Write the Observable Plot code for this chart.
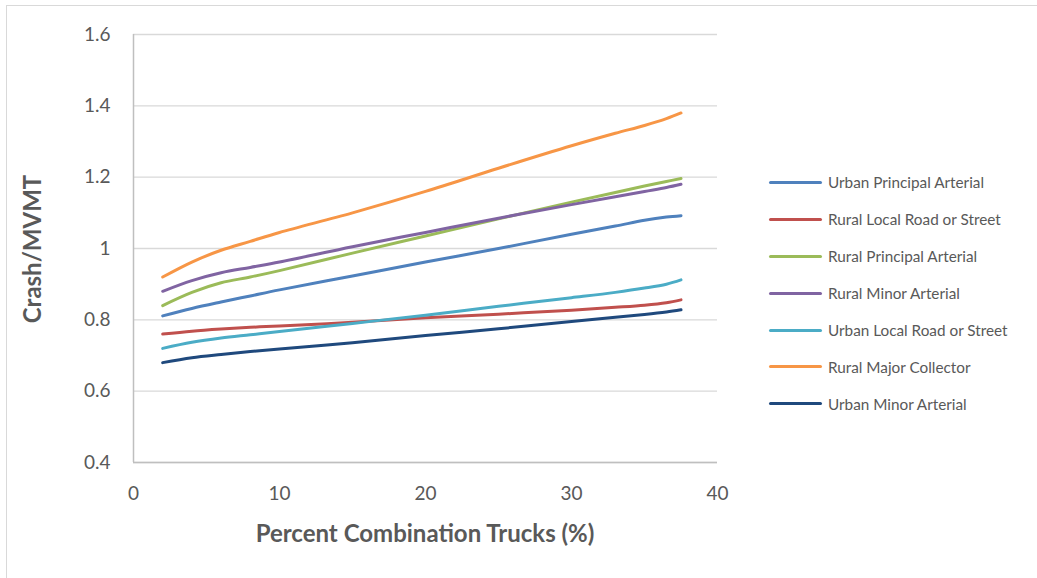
<!DOCTYPE html>
<html>
<head>
<meta charset="utf-8">
<script src="https://cdn.jsdelivr.net/npm/d3@7"></script>
<script src="https://cdn.jsdelivr.net/npm/@observablehq/plot@0.6"></script>
<style>
  html, body { margin: 0; padding: 0; background: #fff; }
  #wrap { position: relative; width: 1037px; height: 578px; overflow: hidden; font-family: Lato, "Open Sans", sans-serif; color: #595959; }
  #frame { position: absolute; left: 6px; top: 5px; right: -2px; bottom: -2px; border-left: 1px solid #d9d9d9; border-top: 1px solid #d9d9d9; }
  #chart { position: absolute; left: 0; top: 0; }
  .ytitle { position: absolute; left: 31px; top: 249px; transform: translate(-50%, -50%) rotate(-90deg); font-weight: 700; font-size: 24px; white-space: nowrap; }
  .xtitle { position: absolute; left: 425px; top: 532px; transform: translate(-50%, -50%); font-weight: 700; font-size: 24px; white-space: nowrap; }
  #legend { position: absolute; left: 769px; top: 0; }
  .item { position: absolute; left: 0; display: flex; align-items: center; white-space: nowrap; transform: translateY(-50%); font-size: 15.3px; }
  .swatch { width: 53px; height: 3px; border-radius: 2px; margin-right: 6px; }
</style>
</head>
<body>
<div id="wrap">
  <div id="frame"></div>
  <div id="chart"></div>
  <div class="ytitle">Crash/MVMT</div>
  <div class="xtitle">Percent Combination Trucks (%)</div>
  <div id="legend"></div>
</div>
<script>
// Percent combination trucks (x) at which each road class is evaluated
const truckPct = [2, 4, 6, 8, 10, 15, 20, 25, 30, 33, 35, 36.5, 37.5];

// Crash rate (crashes per million vehicle-miles travelled) by functional class
const urbanPrincipalArterial = [0.811, 0.832, 0.85, 0.867, 0.884, 0.923, 0.962, 1.0, 1.04, 1.063, 1.079, 1.088, 1.092];
const ruralLocalRoad         = [0.76, 0.768, 0.774, 0.779, 0.783, 0.793, 0.806, 0.816, 0.827, 0.835, 0.841, 0.848, 0.856];
const ruralPrincipalArterial = [0.84, 0.877, 0.904, 0.92, 0.938, 0.987, 1.035, 1.083, 1.13, 1.157, 1.175, 1.188, 1.196];
const ruralMinorArterial     = [0.88, 0.91, 0.932, 0.947, 0.962, 1.005, 1.045, 1.085, 1.123, 1.145, 1.16, 1.171, 1.18];
const urbanLocalRoad         = [0.72, 0.737, 0.749, 0.758, 0.767, 0.79, 0.813, 0.838, 0.862, 0.877, 0.889, 0.9, 0.912];
const ruralMajorCollector    = [0.92, 0.962, 0.995, 1.02, 1.045, 1.10, 1.16, 1.225, 1.288, 1.323, 1.345, 1.364, 1.38];
const urbanMinorArterial     = [0.68, 0.694, 0.703, 0.711, 0.718, 0.736, 0.756, 0.775, 0.795, 0.807, 0.815, 0.822, 0.828];

const seriesNames = [
  "Urban Principal Arterial",
  "Rural Local Road or Street",
  "Rural Principal Arterial",
  "Rural Minor Arterial",
  "Urban Local Road or Street",
  "Rural Major Collector",
  "Urban Minor Arterial"
];
const seriesValues = [
  urbanPrincipalArterial, ruralLocalRoad, ruralPrincipalArterial, ruralMinorArterial,
  urbanLocalRoad, ruralMajorCollector, urbanMinorArterial
];
const seriesColors = ["#4f81bd", "#c0504d", "#9bbb59", "#8064a2", "#4bacc6", "#f79646", "#1f497d"];

const xTicks = [0, 10, 20, 30, 40];
const yTicks = [0.4, 0.6, 0.8, 1, 1.2, 1.4, 1.6];

// Long-format table for the line mark
const rows = seriesNames.flatMap((name, i) =>
  truckPct.map((x, j) => ({ series: name, pct: x, rate: seriesValues[i][j] }))
);

const chart = Plot.plot({
  width: 1037,
  height: 578,
  marginLeft: 133,
  marginRight: 320,
  marginTop: 34,
  marginBottom: 116,
  style: { fontFamily: "Lato, 'Open Sans', sans-serif", color: "#595959", background: "transparent" },
  x: { domain: [0, 40] },
  y: { domain: [0.4, 1.6] },
  color: { domain: seriesNames, range: seriesColors },
  marks: [
    Plot.gridY(yTicks, { stroke: "#d9d9d9", strokeOpacity: 1, strokeWidth: 1.3 }),
    Plot.ruleY([0.4], { stroke: "#bfbfbf", strokeWidth: 1.5 }),
    Plot.ruleX([0], { stroke: "#bfbfbf", strokeWidth: 1.5 }),
    Plot.axisY(yTicks, { tickSize: 0, tickPadding: 23, fontSize: 19, fill: "#595959", label: null, tickFormat: d => String(d) }),
    Plot.axisX(xTicks, { tickSize: 0, tickPadding: 24, fontSize: 19, fill: "#595959", label: null }),
    Plot.line(rows, {
      x: "pct", y: "rate", z: "series", stroke: "series",
      curve: "catmull-rom", strokeWidth: 3, strokeLinecap: "round", strokeLinejoin: "round"
    })
  ]
});
document.getElementById("chart").append(chart);

// Legend on the right, one row per road class
const legend = d3.select("#legend");
const rowY = [182, 219, 256, 293, 330, 366.5, 403.5];
seriesNames.forEach((name, i) => {
  const item = legend.append("div").attr("class", "item").style("top", rowY[i] + "px");
  item.append("div").attr("class", "swatch").style("background", seriesColors[i]);
  item.append("span").text(name);
});
</script>
</body>
</html>
